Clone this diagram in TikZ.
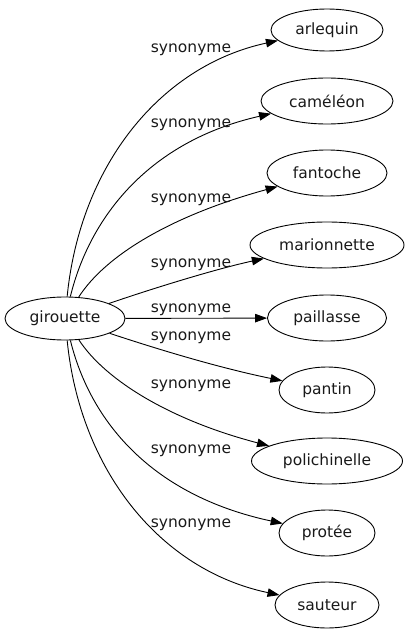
\documentclass[tikz,border=0pt]{standalone}
\usepackage{fontspec}
\setmainfont{DejaVu Sans}
\usetikzlibrary{arrows.meta,shapes.geometric}
\begin{document}
\begin{tikzpicture}[x=1bp,y=-1bp,
  every node/.style={font=\fontsize{15.5bp}{18bp}\selectfont, text=black!90},
  word/.style={draw, ellipse, line width=0.9bp, inner sep=0pt, minimum height=46bp},
  lbl/.style={anchor=base, inner sep=0pt},
  edge/.style={draw, line width=0.9bp, -{Triangle[length=12bp,width=8.5bp]}}]
\useasboundingbox (0,0) rectangle (409,635);
\node[word, minimum width=120bp, minimum height=43bp] (g) at (65,318.5) {girouette};
\node[word, minimum width=112bp, minimum height=42bp] (n1) at (327,30) {arlequin};
\node[word, minimum width=132bp] (n2) at (327,101) {caméléon};
\node[word, minimum width=120bp] (n3) at (327,173) {fantoche};
\node[word, minimum width=154bp] (n4) at (327,245) {marionnette};
\node[word, minimum width=119bp] (n5) at (327,318) {paillasse};
\node[word, minimum width=96bp] (n6) at (327,390) {pantin};
\node[word, minimum width=151bp] (n7) at (327,461) {polichinelle};
\node[word, minimum width=96bp] (n8) at (327,533) {protée};
\node[word, minimum width=104bp] (n9) at (327,605) {sauteur};

\draw[edge] (g) .. controls (80,166) and (160,66) .. (n1);
\draw[edge] (g) .. controls (90,216) and (150,141) .. (n2);
\draw[edge] (g) .. controls (105,256) and (170,216) .. (n3);
\draw[edge] (g) .. controls (160,286) and (220,268) .. (n4);
\draw[edge] (g) -- (n5);
\draw[edge] (g) .. controls (160,350) and (220,368) .. (n6);
\draw[edge] (g) .. controls (105,380) and (170,420) .. (n7);
\draw[edge] (g) .. controls (90,420) and (150,495) .. (n8);
\draw[edge] (g) .. controls (80,470) and (160,570) .. (n9);

\node[lbl] (l1) at (191,53) {synonyme};
\node[lbl] (l2) at (191,128) {synonyme};
\node[lbl] (l3) at (191,202) {synonyme};
\node[lbl] (l4) at (191,267) {synonyme};
\node[lbl] (l5) at (191,312) {synonyme};
\node[lbl] (l6) at (191,340) {synonyme};
\node[lbl] (l7) at (191,388) {synonyme};
\node[lbl] (l8) at (191,453) {synonyme};
\node[lbl] (l9) at (191,527) {synonyme};
\end{tikzpicture}
\end{document}
